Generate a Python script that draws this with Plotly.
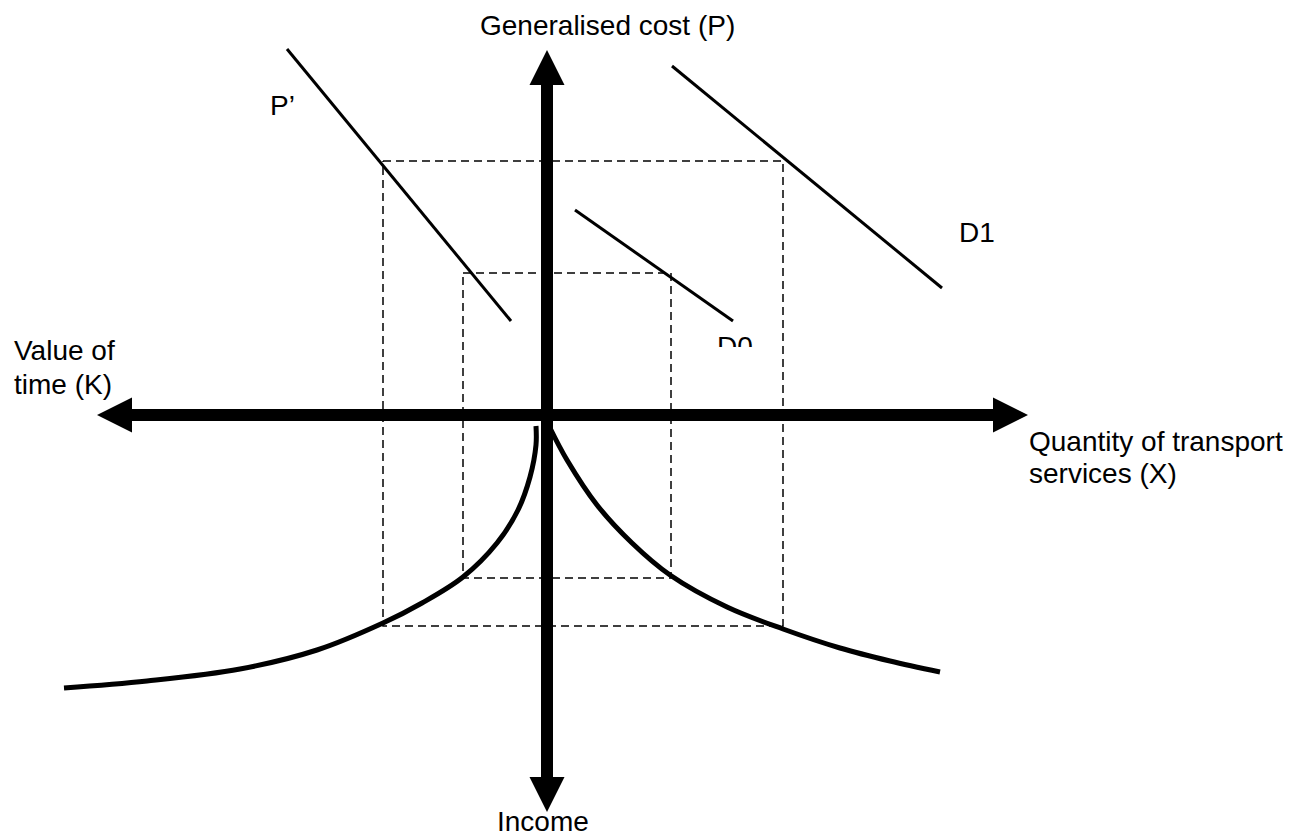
import plotly.graph_objects as go

# diagram coordinates: origin where the two axes cross
axis_x_tips = [-450, 481]      # Value of time (left) / Quantity (right)
axis_y_tips = [365, -397]      # Generalised cost (top) / Income (bottom)

# demand / cost lines (start, end)
p_prime_x = [-260, -36]
p_prime_y = [366, 94]
d1_x = [125, 395]
d1_y = [349, 127]
d0_x = [28, 186]
d0_y = [205, 94]

# dashed construction rectangles [x0, x1, y0, y1]
outer_rect = [-164, 236, -211, 254]
inner_rect = [-84, 124, -163, 142]

# income curves in the lower quadrants
left_curve_x = [-11, -11, -17, -29, -50, -84, -125, -164, -230, -307, -400, -483]
left_curve_y = [-11, -30, -62, -95, -128, -162, -188, -208, -235, -254, -266, -273]
right_curve_x = [3, 20, 50, 85, 123, 180, 236, 293, 343, 393]
right_curve_y = [-13, -45, -90, -128, -160, -192, -214, -233, -246, -257]

FONT = dict(family="Liberation Sans, Arial, sans-serif", size=28, color="black")
HEAD_LEN = 35
HEAD_HALF = 17.5

fig = go.Figure()


def add_line(xs, ys, width, dash="solid", shape="linear"):
    fig.add_trace(go.Scatter(
        x=xs, y=ys, mode="lines",
        line=dict(color="black", width=width, dash=dash, shape=shape, smoothing=1.0),
        hoverinfo="skip", showlegend=False,
    ))


def add_rect(r):
    x0, x1, y0, y1 = r
    add_line([x0, x1, x1, x0, x0], [y1, y1, y0, y0, y1], 1.5, dash="8px,5px")


add_rect(outer_rect)
add_rect(inner_rect)

add_line(p_prime_x, p_prime_y, 3)
add_line(d1_x, d1_y, 3)
add_line(d0_x, d0_y, 3)

add_line(left_curve_x, left_curve_y, 5, shape="spline")
add_line(right_curve_x, right_curve_y, 5, shape="spline")

# axis shafts
add_line([axis_x_tips[0] + HEAD_LEN - 4, axis_x_tips[1] - HEAD_LEN + 4], [0, 0], 12)
add_line([0, 0], [axis_y_tips[0] - HEAD_LEN + 4, axis_y_tips[1] + HEAD_LEN - 4], 12)

# arrow heads
for tip in axis_x_tips:
    s = 1 if tip > 0 else -1
    base = tip - s * HEAD_LEN
    fig.add_trace(go.Scatter(
        x=[tip, base, base, tip], y=[0, HEAD_HALF, -HEAD_HALF, 0],
        mode="lines", fill="toself", fillcolor="black",
        line=dict(color="black", width=0), hoverinfo="skip", showlegend=False,
    ))
for tip in axis_y_tips:
    s = 1 if tip > 0 else -1
    base = tip - s * HEAD_LEN
    fig.add_trace(go.Scatter(
        x=[0, HEAD_HALF, -HEAD_HALF, 0], y=[tip, base, base, tip],
        mode="lines", fill="toself", fillcolor="black",
        line=dict(color="black", width=0), hoverinfo="skip", showlegend=False,
    ))

# D0 label sits partly under a white box (clipped in the original)
fig.add_trace(go.Scatter(
    x=[170], y=[52], mode="text", text=["D0"], textposition="top right",
    textfont=FONT, hoverinfo="skip", showlegend=False,
))
fig.add_shape(type="rect", x0=160, x1=220, y0=30, y1=68,
              fillcolor="white", line=dict(width=0), layer="above")

labels = [
    (60, 390, "Generalised cost (P)", "center"),
    (-535, 65, "Value of", "left"),
    (-535, 31, "time (K)", "left"),
    (480, -26, "Quantity of transport", "left"),
    (480, -58, "services (X)", "left"),
    (-4, -406, "Income", "center"),
    (-279, 310, "P\u2019", "left"),
    (410, 183, "D1", "left"),
]
for x, y, txt, align in labels:
    fig.add_annotation(x=x, y=y, text=txt, showarrow=False, font=FONT,
                       xanchor=align, align=align)

# page body has an 8px margin, so the figure is 8px smaller and the ranges shifted
fig.update_layout(
    width=1298, height=829,
    margin=dict(l=0, r=0, t=0, b=0),
    plot_bgcolor="white", paper_bgcolor="white",
    xaxis=dict(range=[-539, 759], visible=False, fixedrange=True),
    yaxis=dict(range=[-422, 407], visible=False, fixedrange=True),
)

fig.write_html("out.html")
